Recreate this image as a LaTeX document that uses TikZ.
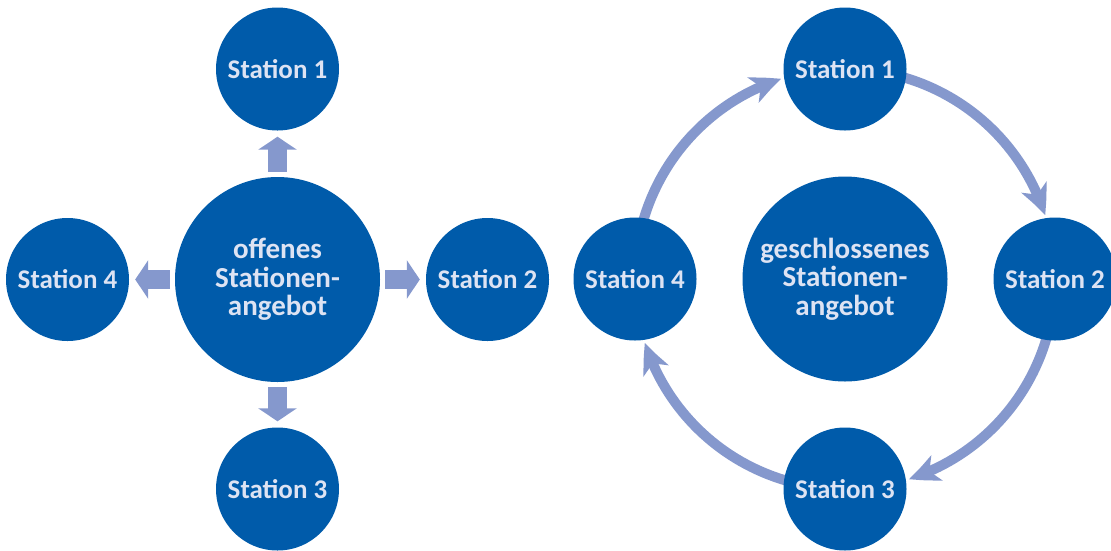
\documentclass[tikz,border=0pt]{standalone}
\usepackage{fontspec}
\setmainfont{Carlito}
\usetikzlibrary{arrows.meta,bending}
\definecolor{circblue}{HTML}{005BAA}
\definecolor{txtlight}{HTML}{DDE3F3}
\definecolor{arrblue}{HTML}{8598CD}
\begin{document}
\begin{tikzpicture}[x=1pt,y=1pt,
  station/.style={circle, fill=circblue, minimum size=123pt, inner sep=0pt, text=txtlight,
    font=\fontsize{27}{29}\selectfont\bfseries},
  hub/.style={station, minimum size=205pt, align=center,
    font=\fontsize{29}{28.5}\selectfont\bfseries},
  blockarrow/.style={draw=arrblue, line width=19pt, -{Triangle[width=38pt,length=13pt]},
    shorten <=5pt, shorten >=6pt},
  ringarrow/.style={draw=arrblue, line width=10pt, -{Stealth[length=30pt,width=27pt,inset=8pt,bend]}}]
\useasboundingbox (0,0) rectangle (1111,-550);
\clip (0,0) rectangle (1111,-550);

% right ring centre
\coordinate (rc) at (845,-279);
\draw[ringarrow] ([shift={(165:210pt)}]rc) arc[start angle=165, end angle=107.7, radius=210pt];
\draw[ringarrow] ([shift={(75:210pt)}]rc) arc[start angle=75, end angle=17.7, radius=210pt];
\draw[ringarrow] ([shift={(-15:210pt)}]rc) arc[start angle=-15, end angle=-72.3, radius=210pt];
\draw[ringarrow] ([shift={(-105:210pt)}]rc) arc[start angle=-105, end angle=-162.3, radius=210pt];

% left diagram
\node[hub] (oc) at (277.5,-279.5) {offenes\\Stationen-\\angebot};
\node[station] (o1) at (277.5,-69) {Station 1};
\node[station] (o2) at (487.5,-279.5) {Station 2};
\node[station] (o3) at (277.5,-489) {Station 3};
\node[station] (o4) at (67.5,-279.5) {Station 4};
\draw[blockarrow] (oc) -- (o1);
\draw[blockarrow] (oc) -- (o2);
\draw[blockarrow] (oc) -- (o3);
\draw[blockarrow] (oc) -- (o4);

% right diagram
\node[hub] (gc) at (rc) {geschlossenes\\Stationen-\\angebot};
\node[station] (g1) at (845,-69) {Station 1};
\node[station] (g2) at (1055,-279) {Station 2};
\node[station] (g3) at (845,-489) {Station 3};
\node[station] (g4) at (635,-279) {Station 4};
\end{tikzpicture}
\end{document}
